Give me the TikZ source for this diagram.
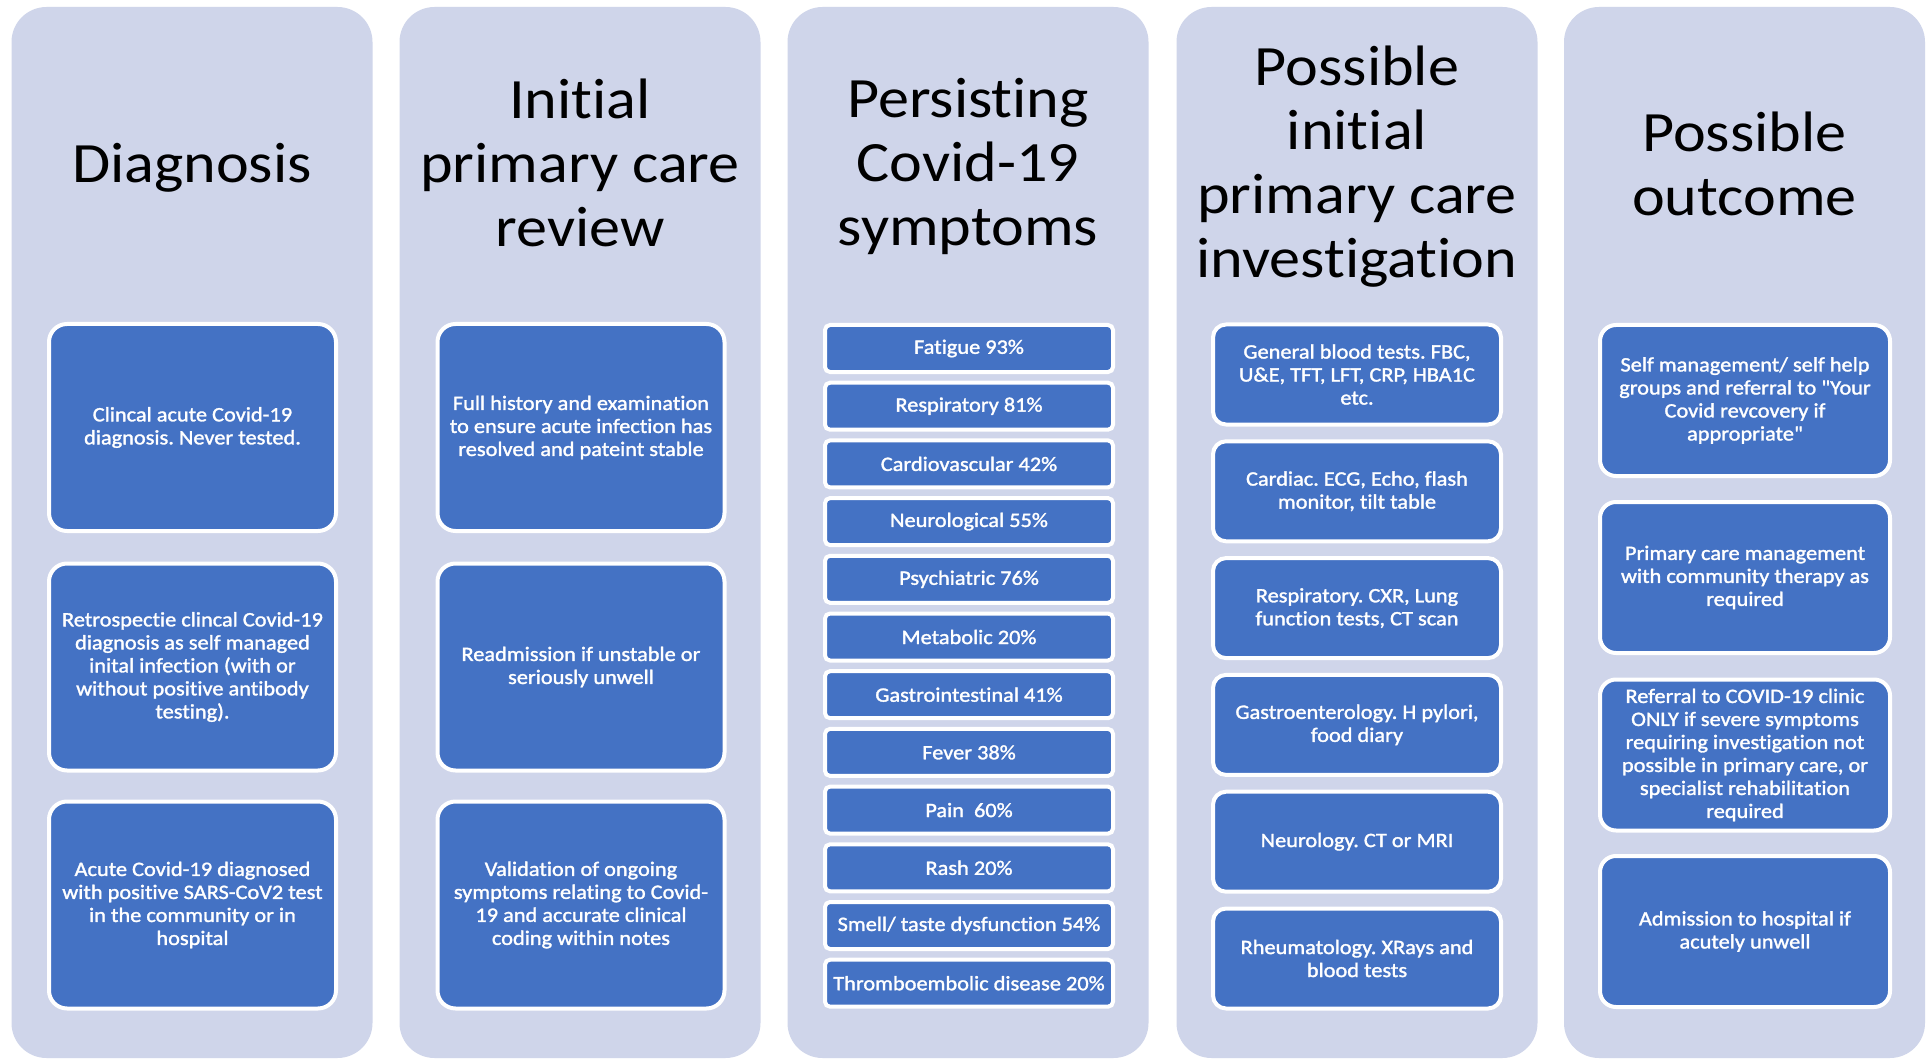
\documentclass[tikz,border=0pt]{standalone}
\usepackage{fontspec}
\setmainfont[Ligatures={NoCommon}]{Carlito}
\newfontfamily\headfont[Ligatures={NoCommon},FakeStretch=1.09]{Carlito}
\newfontfamily\boxfont[Ligatures={NoCommon},FakeStretch=1.09,FakeBold=1.5]{Carlito}
\frenchspacing
\definecolor{colbg}{HTML}{CFD5EA}
\definecolor{boxblue}{HTML}{4472C4}
\tikzset{
  column/.style={fill=colbg, draw=none, rounded corners=35pt, minimum width=361pt, minimum height=1051pt, inner sep=0pt},
  header/.style={align=center, text=black, font=\headfont\fontsize{57}{64}\selectfont, inner sep=0pt},
  boxtext/.style={fill=boxblue, draw=white, line width=4pt, align=center, text=white, font=\boxfont\fontsize{20.5}{23}\selectfont\frenchspacing, inner sep=0pt},
  bigbox/.style={boxtext, rounded corners=18pt, minimum width=287pt, minimum height=207pt},
  symbox/.style={boxtext, rounded corners=5pt, minimum width=288pt, minimum height=47pt},
  invbox/.style={boxtext, rounded corners=13pt, minimum width=288pt, minimum height=100pt},
  outbox/.style={boxtext, rounded corners=16pt, minimum width=290pt, minimum height=151pt}
}
\begin{document}
\begin{tikzpicture}[x=1pt,y=-1pt]
\useasboundingbox[fill=white] (0,0) rectangle (1928,1059);
% columns
\node[column] (c1) at (192,532.5) {};
\node[column] (c2) at (580,532.5) {};
\node[column] (c3) at (968,532.5) {};
\node[column] (c4) at (1357,532.5) {};
\node[column] (c5) at (1744.5,532.5) {};
% headers
\node[header] (h1) at (192,168) {Diagnosis};
\node[header] (h2) at (580,163) {Initial\\primary care\\review};
\node[header] (h3) at (968,166) {Persisting\\Covid-19\\symptoms};
\node[header] (h4) at (1357,167) {Possible\\initial\\primary care\\investigation};
\node[header] (h5) at (1744.5,164) {Possible\\outcome};
% column 1
\node[bigbox] (d1) at (192.5,427.5) {Clincal acute Covid-19\\diagnosis. Never tested.};
\node[bigbox] (d2) at (192.5,667) {Retrospectie clincal Covid-19\\diagnosis as self managed\\inital infection (with or\\without positive antibody\\testing).};
\node[bigbox] (d3) at (192.5,905) {Acute Covid-19 diagnosed\\with positive SARS-CoV2 test\\in the community or in\\hospital};
% column 2
\node[bigbox] (r1) at (581,427.5) {Full history and examination\\to ensure acute infection has\\resolved and pateint stable};
\node[bigbox] (r2) at (581,667) {Readmission if unstable or\\seriously unwell};
\node[bigbox] (r3) at (581,905) {Validation of ongoing\\symptoms relating to Covid-\\19 and accurate clinical\\coding within notes};
% column 3
\node[symbox] (s1) at (969,348.5) {Fatigue 93\%};
\node[symbox] (s2) at (969,406.2) {Respiratory 81\%};
\node[symbox] (s3) at (969,463.9) {Cardiovascular 42\%};
\node[symbox] (s4) at (969,521.6) {Neurological 55\%};
\node[symbox] (s5) at (969,579.3) {Psychiatric 76\%};
\node[symbox] (s6) at (969,637.0) {Metabolic 20\%};
\node[symbox] (s7) at (969,694.7) {Gastrointestinal 41\%};
\node[symbox] (s8) at (969,752.4) {Fever 38\%};
\node[symbox] (s9) at (969,810.1) {Pain\ \ 60\%};
\node[symbox] (s10) at (969,867.8) {Rash 20\%};
\node[symbox] (s11) at (969,925.5) {Smell/ taste dysfunction 54\%};
\node[symbox] (s12) at (969,983.2) {Thromboembolic disease 20\%};
% column 4
\node[invbox] (i1) at (1357,374.5) {General blood tests. FBC,\\U\&E, TFT, LFT, CRP, HBA1C\\etc.};
\node[invbox] (i2) at (1357,491.3) {Cardiac. ECG, Echo, flash\\monitor, tilt table};
\node[invbox] (i3) at (1357,608.1) {Respiratory. CXR, Lung\\function tests, CT scan};
\node[invbox] (i4) at (1357,724.9) {Gastroenterology. H pylori,\\food diary};
\node[invbox] (i5) at (1357,841.7) {Neurology. CT or MRI};
\node[invbox] (i6) at (1357,958.5) {Rheumatology. XRays and\\blood tests};
% column 5
\node[outbox] (o1) at (1745,400.5) {Self management/ self help\\groups and referral to "Your\\Covid revcovery if\\appropriate"};
\node[outbox] (o2) at (1745,577.5) {Primary care management\\with community therapy as\\required};
\node[outbox] (o3) at (1745,755) {Referral to COVID-19 clinic\\ONLY if severe symptoms\\requiring investigation not\\possible in primary care, or\\specialist rehabilitation\\required};
\node[outbox] (o4) at (1745,931.5) {Admission to hospital if\\acutely unwell};
\end{tikzpicture}
\end{document}
